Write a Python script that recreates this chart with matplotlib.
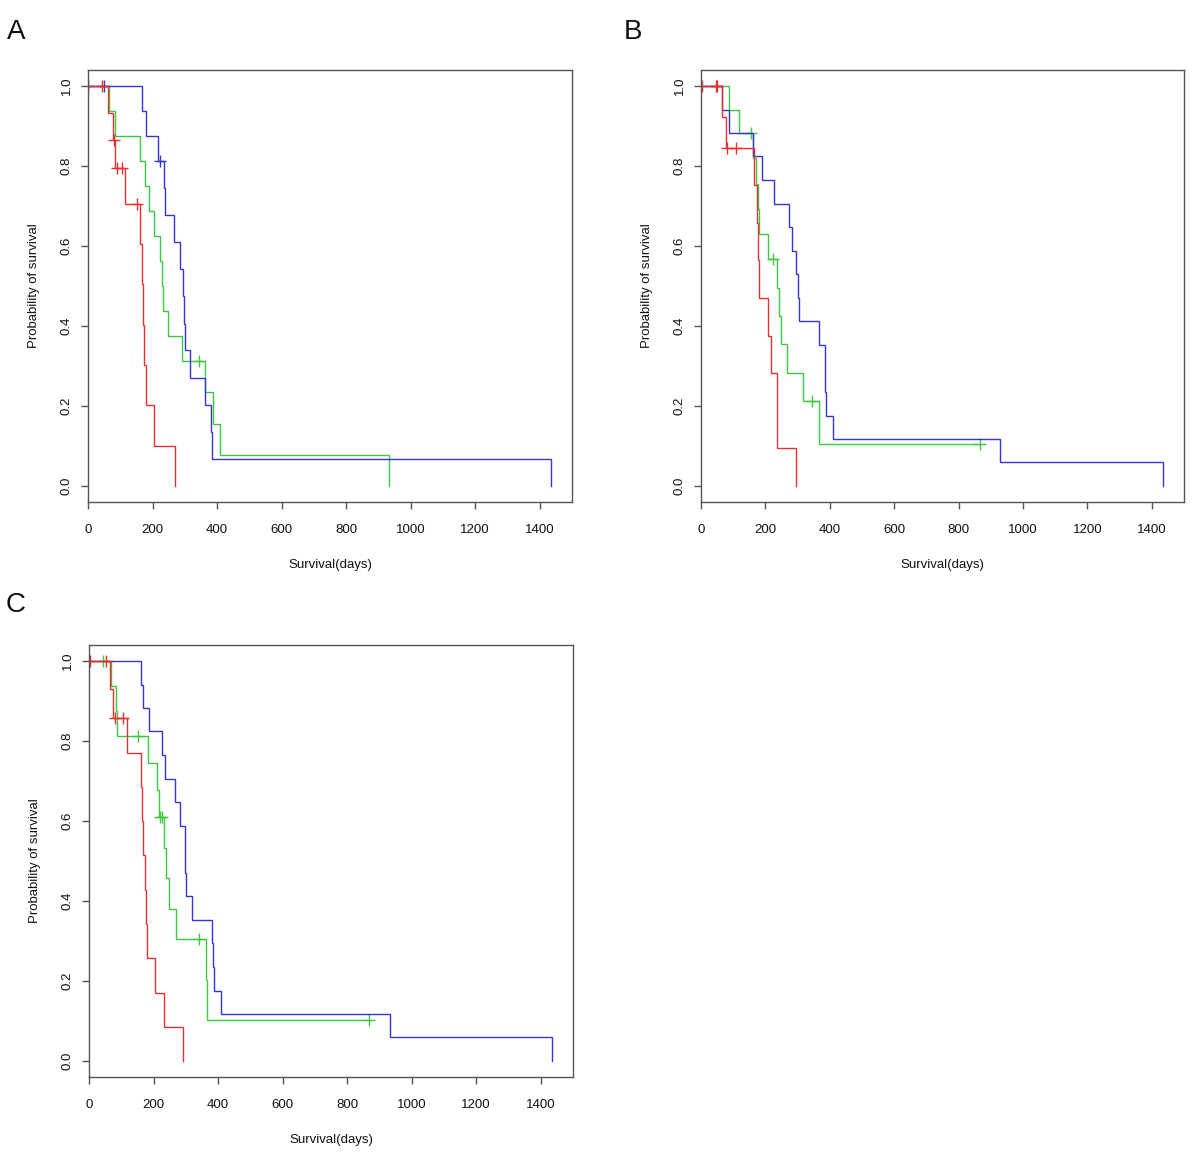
import matplotlib
matplotlib.use('Agg')
import matplotlib.pyplot as plt
import numpy as np

plt.rcParams['font.family'] = ['Liberation Sans', 'DejaVu Sans']

# ---------------- Panel A ----------------
a_blue_t = [0, 167, 179, 217, 234, 239, 265, 284, 293, 299, 302, 317, 364, 380, 385, 1435]
a_blue_s = [1.0, 0.9375, 0.875, 0.8125, 0.745, 0.677, 0.609, 0.542, 0.474, 0.406, 0.339, 0.271, 0.203, 0.135, 0.068, 0.0]
a_blue_c = [49, 222]

a_green_t = [0, 65, 84, 162, 177, 188, 205, 224, 229, 231, 247, 291, 364, 387, 409, 933]
a_green_s = [1.0, 0.9375, 0.875, 0.8125, 0.75, 0.6875, 0.625, 0.5625, 0.5, 0.4375, 0.375, 0.3125, 0.234, 0.156, 0.078, 0.0]
a_green_c = [1, 343]

a_red_t = [0, 63, 76, 84, 115, 162, 166, 170, 175, 179, 205, 269]
a_red_s = [1.0, 0.933, 0.866, 0.794, 0.706, 0.605, 0.504, 0.403, 0.302, 0.202, 0.101, 0.0]
a_red_c = [1, 42, 80, 89, 105, 153]

# ---------------- Panel B ----------------
b_blue_t = [0, 64, 87, 163, 189, 227, 272, 284, 296, 301, 304, 365, 384, 386, 388, 410, 930, 1435]
b_blue_s = [1.0, 0.941, 0.882, 0.824, 0.765, 0.706, 0.647, 0.588, 0.529, 0.471, 0.412, 0.353, 0.294, 0.235, 0.176, 0.118, 0.059, 0.0]
b_blue_c = []

b_green_t = [0, 87, 118, 163, 170, 176, 180, 209, 237, 243, 249, 267, 318, 367]
b_green_s = [1.0, 0.941, 0.882, 0.819, 0.756, 0.693, 0.630, 0.567, 0.496, 0.425, 0.354, 0.283, 0.213, 0.106]
b_green_c = [156, 225, 344, 868]

b_red_t = [0, 66, 77, 166, 173, 178, 180, 207, 217, 235, 236, 295]
b_red_s = [1.0, 0.923, 0.846, 0.752, 0.658, 0.564, 0.470, 0.376, 0.282, 0.188, 0.094, 0.0]
b_red_c = [4, 46, 51, 82, 108]

# ---------------- Panel C ----------------
c_blue_t = [0, 161, 168, 187, 227, 235, 266, 282, 297, 299, 302, 318, 382, 384, 386, 408, 932, 1435]
c_blue_s = [1.0, 0.941, 0.882, 0.824, 0.765, 0.706, 0.647, 0.588, 0.529, 0.471, 0.412, 0.353, 0.294, 0.235, 0.176, 0.118, 0.059, 0.0]
c_blue_c = []

c_green_t = [0, 67, 85, 86, 182, 210, 217, 233, 238, 249, 269, 364, 367]
c_green_s = [1.0, 0.9375, 0.875, 0.8125, 0.745, 0.677, 0.609, 0.533, 0.457, 0.381, 0.305, 0.203, 0.102]
c_green_c = [44, 153, 221, 226, 342, 867]

c_red_t = [0, 65, 75, 117, 161, 165, 168, 173, 176, 179, 204, 232, 292]
c_red_s = [1.0, 0.929, 0.857, 0.771, 0.686, 0.600, 0.514, 0.428, 0.343, 0.257, 0.171, 0.086, 0.0]
c_red_c = [3, 52, 80, 106]

panel_letters = ['A', 'B', 'C']
x_ticks = [0, 200, 400, 600, 800, 1000, 1200, 1400]
y_ticks = [0.0, 0.2, 0.4, 0.6, 0.8, 1.0]
x_label = 'Survival(days)'
y_label = 'Probability of survival'

COL_BLUE = '#3535d0'
COL_GREEN = '#3ec83e'
COL_RED = '#e83030'

W, H = 1200, 1162
fig = plt.figure(figsize=(W / 100, H / 100), dpi=100)

def frac_axes(left, top, right, bottom):
    return fig.add_axes([left / W, 1 - bottom / H, (right - left) / W, (bottom - top) / H])

def level_at(t, s, x):
    idx = np.searchsorted(np.asarray(t), x, side='right') - 1
    return s[max(idx, 0)]

def draw_curve(ax, t, s, cens, color):
    t = list(t)
    s = list(s)
    if cens and max(cens) > t[-1]:
        t.append(max(cens))
        s.append(s[-1])
    ax.step(t, s, where='post', color=color, lw=1.0, solid_joinstyle='miter')
    if cens:
        cy = [level_at(t, s, c) for c in cens]
        ax.plot(cens, cy, linestyle='none', marker='+', ms=8, mew=1.0, color=color)

def style_axes(ax):
    ax.set_xlim(0, 1500)
    ax.set_ylim(-0.04, 1.04)
    ax.set_xticks(x_ticks)
    ax.set_yticks(y_ticks)
    ax.set_yticklabels([f'{v:.1f}' for v in y_ticks], rotation=90, va='center')
    for sp in ax.spines.values():
        sp.set_color('#555555')
        sp.set_linewidth(1.0)
    ax.tick_params(axis='both', direction='out', length=5, width=1.0, color='#555555',
                   labelsize=9.5, labelcolor='#111111')
    ax.tick_params(axis='x', pad=11)
    ax.tick_params(axis='y', pad=6)
    ax.set_xlabel(x_label, fontsize=9.5, color='#111111')
    ax.set_ylabel(y_label, fontsize=9.5, color='#111111')
    ax.xaxis.set_label_coords(0.5, -0.133)
    ax.yaxis.set_label_coords(-0.1, 0.5)

axA = frac_axes(88, 70, 572, 502)
axB = frac_axes(701, 70, 1184, 502)
axC = frac_axes(89, 645, 573, 1077)

for ax, data in [
    (axA, [(a_green_t, a_green_s, a_green_c, COL_GREEN), (a_blue_t, a_blue_s, a_blue_c, COL_BLUE), (a_red_t, a_red_s, a_red_c, COL_RED)]),
    (axB, [(b_green_t, b_green_s, b_green_c, COL_GREEN), (b_blue_t, b_blue_s, b_blue_c, COL_BLUE), (b_red_t, b_red_s, b_red_c, COL_RED)]),
    (axC, [(c_green_t, c_green_s, c_green_c, COL_GREEN), (c_blue_t, c_blue_s, c_blue_c, COL_BLUE), (c_red_t, c_red_s, c_red_c, COL_RED)]),
]:
    for t, s, c, col in data:
        draw_curve(ax, t, s, c, col)
    style_axes(ax)

letter_pos = [(16, 32), (633, 32), (16, 605)]
for lab, (px, py) in zip(panel_letters, letter_pos):
    fig.text(px / W, 1 - py / H, lab, fontsize=20, ha='center', va='center', color='#111111')

fig.savefig('out.png', dpi=100, facecolor='white')
